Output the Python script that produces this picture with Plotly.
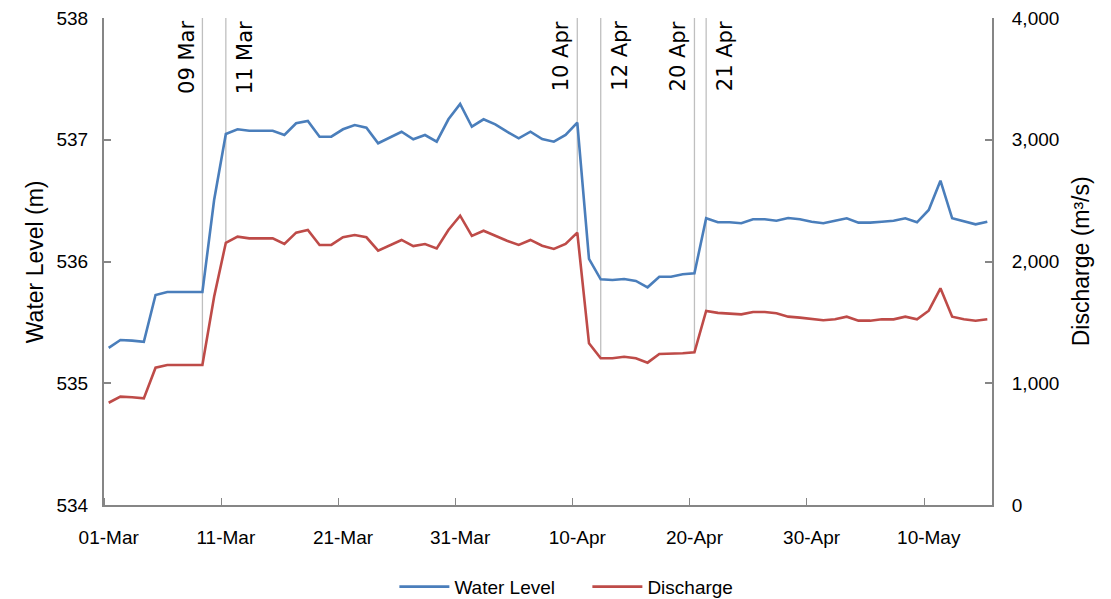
import pandas as pd
import plotly.graph_objects as go

# ---- data ----
start_date = "2023-03-01"
n_days = 76
water_level = [
    535.29, 535.355, 535.35, 535.34, 535.725, 535.75, 535.75, 535.75, 535.75, 536.505,
    537.047, 537.086, 537.074, 537.074, 537.074, 537.039, 537.135, 537.154, 537.025, 537.025,
    537.086, 537.121, 537.099, 536.971, 537.017, 537.066, 537.004, 537.039, 536.984, 537.168,
    537.294, 537.107, 537.168, 537.127, 537.066, 537.012, 537.066, 537.006, 536.984, 537.039,
    537.140, 536.021, 535.854, 535.848, 535.856, 535.840, 535.788, 535.875, 535.875, 535.895,
    535.903, 536.355, 536.322, 536.322, 536.314, 536.347, 536.347, 536.335, 536.357, 536.347,
    536.327, 536.314, 536.335, 536.355, 536.319, 536.319, 536.327, 536.335, 536.355, 536.322,
    536.423, 536.664, 536.355, 536.327, 536.305, 536.327,
]
discharge = [
    840, 890, 885, 876, 1128, 1150, 1150, 1150, 1150, 1711,
    2154, 2204, 2190, 2190, 2190, 2144, 2237, 2259, 2136, 2136,
    2199, 2218, 2199, 2089, 2136, 2177, 2127, 2144, 2108, 2259,
    2376, 2210, 2253, 2210, 2171, 2136, 2177, 2130, 2103, 2144,
    2237, 1328, 1205, 1205, 1218, 1205, 1169, 1240, 1240, 1246,
    1254, 1594, 1578, 1575, 1566, 1585, 1585, 1575, 1547, 1539,
    1528, 1517, 1525, 1547, 1514, 1514, 1525, 1525, 1547, 1525,
    1596, 1780, 1547, 1525, 1514, 1525,
]
event_dates = ["2023-03-09", "2023-03-11", "2023-04-10", "2023-04-12", "2023-04-20", "2023-04-21"]
event_labels = ["09 Mar", "11 Mar", "10 Apr", "12 Apr", "20 Apr", "21 Apr"]
event_side = ["left", "right", "left", "right", "left", "right"]
tick_dates = ["2023-03-01", "2023-03-11", "2023-03-21", "2023-03-31",
              "2023-04-10", "2023-04-20", "2023-04-30", "2023-05-10"]
tick_labels = ["01-Mar", "11-Mar", "21-Mar", "31-Mar", "10-Apr", "20-Apr", "30-Apr", "10-May"]

dates = pd.date_range(start_date, periods=n_days, freq="D")

BLUE = "#4a7ebb"
RED = "#be4b48"
AXIS = "#868686"
FONT = "Liberation Sans"

fig = go.Figure()
fig.add_trace(go.Scatter(x=dates, y=water_level, mode="lines", name="Water Level",
                         line=dict(color=BLUE, width=2.6), yaxis="y"))
fig.add_trace(go.Scatter(x=dates, y=discharge, mode="lines", name="Discharge",
                         line=dict(color=RED, width=2.6), yaxis="y2"))

pad = pd.Timedelta(hours=9.6)
x_range = [dates[0] - pad, dates[-1] + pad]

# vertical event lines from the discharge value up to the top
q_by_date = dict(zip(dates, discharge))
shapes = []
annotations = []
for d, lab, side in zip(event_dates, event_labels, event_side):
    dt = pd.Timestamp(d)
    shapes.append(dict(type="line", xref="x", yref="y2", x0=dt, x1=dt,
                       y0=q_by_date[dt], y1=4000,
                       line=dict(color="#bfbfbf", width=1.3), layer="below"))
    annotations.append(dict(x=dt, y=1, xref="x", yref="paper", text=lab, showarrow=False,
                            textangle=-90, yanchor="top",
                            xanchor="right" if side == "left" else "left",
                            xshift=-2 if side == "left" else 5, yshift=-1,
                            font=dict(family="DejaVu Sans", size=21, color="#000000")))

annotations.append(dict(x=-0.078, y=0.5, xref="paper", yref="paper", text="Water Level (m)",
                        showarrow=False, textangle=-90, xanchor="center", yanchor="middle",
                        font=dict(family=FONT, size=23, color="#000000")))
annotations.append(dict(x=1.1, y=0.5, xref="paper", yref="paper", text="Discharge (m³/s)",
                        showarrow=False, textangle=-90, xanchor="center", yanchor="middle",
                        font=dict(family=FONT, size=23, color="#000000")))

minor_ticks = [pd.Timestamp(t) - pad for t in tick_dates]

# the page body adds an 8px offset, so the figure is sized/margined to compensate
fig.update_layout(
    width=1103, height=591,
    margin=dict(l=96, r=119, t=10, b=94, autoexpand=False),
    paper_bgcolor="white", plot_bgcolor="white",
    font=dict(family=FONT, size=19, color="#000000"),
    showlegend=True,
    legend=dict(orientation="h", x=0.327, y=-0.168, xanchor="left", yanchor="middle",
                font=dict(family=FONT, size=19), itemwidth=50, entrywidth=128,
                tracegroupgap=0),
    xaxis=dict(range=x_range, type="date", tickmode="array", tickvals=pd.to_datetime(tick_dates),
               ticktext=tick_labels, ticks="", showgrid=False, zeroline=False,
               showline=True, linecolor=AXIS, linewidth=2, ticklabelstandoff=14,
               minor=dict(tickmode="array", tickvals=minor_ticks, ticks="inside",
                          ticklen=7, tickcolor=AXIS, tickwidth=1.3, showgrid=False)),
    yaxis=dict(range=[534, 538], dtick=1, tick0=534, ticks="inside", ticklen=7,
               tickcolor=AXIS, tickwidth=1.5, showline=True, linecolor=AXIS, linewidth=2,
               showgrid=False, zeroline=False, ticklabelstandoff=10,
               ticklabeloverflow="allow"),
    yaxis2=dict(range=[0, 4000], dtick=1000, tick0=0, tickformat=",", ticks="inside",
                ticklen=7, tickcolor=AXIS, tickwidth=1.5, showline=True, linecolor=AXIS,
                linewidth=2, showgrid=False, zeroline=False, overlaying="y", side="right",
                anchor="x", ticklabelstandoff=14, ticklabeloverflow="allow"),
    shapes=shapes,
    annotations=annotations,
)

fig.write_html("out.html")
